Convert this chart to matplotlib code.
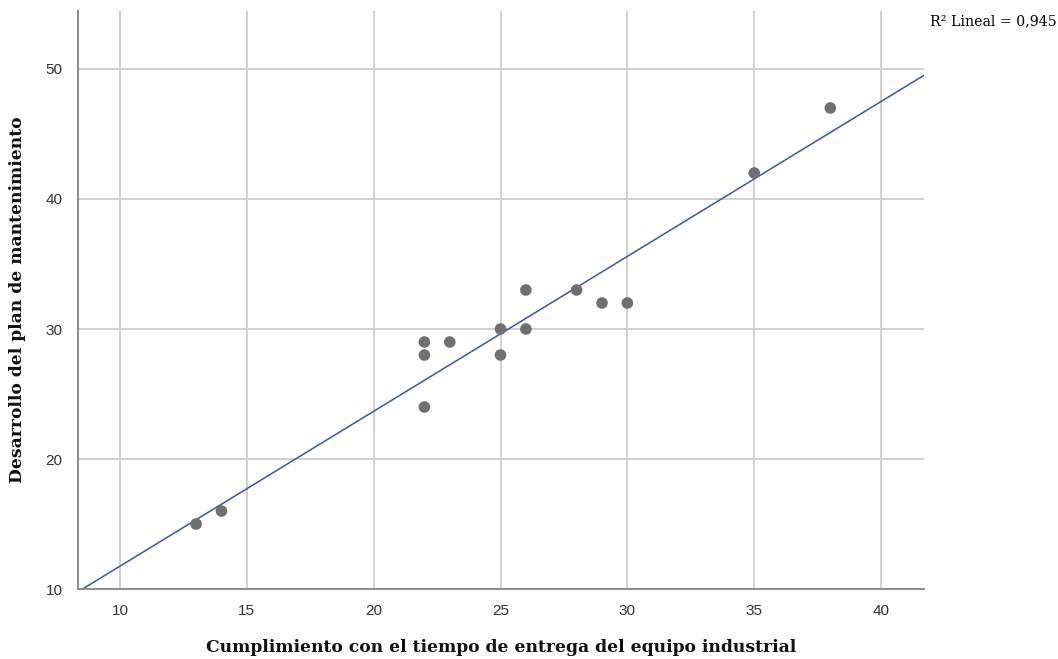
import numpy as np
import matplotlib.pyplot as plt

# cumplimiento (x) vs desarrollo del plan (y)
cumplimiento = [13, 14, 22, 22, 22, 23, 25, 25, 26, 26, 28, 29, 30, 35, 38]
desarrollo = [15, 16, 24, 28, 29, 29, 28, 30, 30, 33, 33, 32, 32, 42, 47]
r2_text = 'R² Lineal = 0,945'

x = np.array(cumplimiento)
y = np.array(desarrollo)

fig = plt.figure(figsize=(10.58, 6.59), dpi=100)
ax = fig.add_axes([0.0737, 0.1062, 0.7996, 0.8771])

ax.set_xlim(8.345, 41.69)
ax.set_ylim(10, 54.46)
ax.set_xticks([10, 15, 20, 25, 30, 35, 40])
ax.set_yticks([10, 20, 30, 40, 50])
ax.grid(True, color='#d0d0d0', linewidth=1.4)
ax.set_axisbelow(True)

for s in ['top', 'right']:
    ax.spines[s].set_visible(False)
for s in ['left', 'bottom']:
    ax.spines[s].set_color('#8c8c8c')
    ax.spines[s].set_linewidth(1.4)
ax.tick_params(length=0, labelsize=11, pad=11, labelcolor='#333333')
for lab in ax.get_xticklabels() + ax.get_yticklabels():
    lab.set_fontfamily('Liberation Sans')

# regression line
b, a = np.polyfit(x, y, 1)
xs = np.array([8.0, 42.0])
ax.plot(xs, a + b * xs, color='#3f559d', linewidth=1.1, zorder=2)

ax.scatter(x, y, s=70, color='#707070', edgecolors='none', zorder=3)

fig.text(0.4735, 0.0167, 'Cumplimiento con el tiempo de entrega del equipo industrial',
         fontfamily='DejaVu Serif', fontweight='bold', fontsize=12.3,
         ha='center', va='center', color='#111111')
fig.text(0.017, 0.545, 'Desarrollo del plan de mantenimiento',
         fontfamily='DejaVu Serif', fontweight='bold', fontsize=12.3,
         ha='center', va='center', rotation=90, color='#111111')

fig.text(0.879, 0.968, r2_text, fontfamily='DejaVu Serif', fontsize=10.2, va='center')

fig.savefig('out.png', dpi=100)
